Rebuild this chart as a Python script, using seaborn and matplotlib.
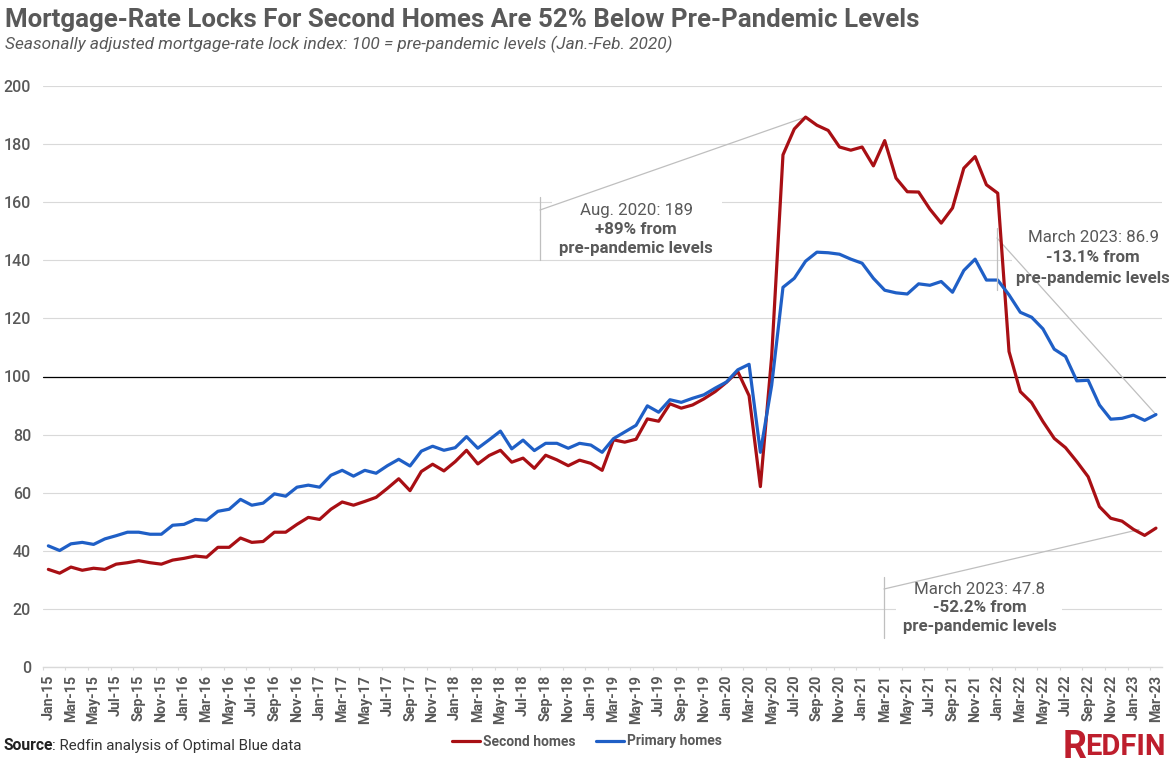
import matplotlib
matplotlib.use("Agg")
import matplotlib.pyplot as plt
import seaborn as sns
import pandas as pd

months = [f"{m}-{y}" for y in range(15, 24) for m in
          ["Jan", "Feb", "Mar", "Apr", "May", "Jun", "Jul", "Aug", "Sep", "Oct", "Nov", "Dec"]][:99]

second_homes = [33.6, 32.3, 34.4, 33.3, 34.0, 33.6, 35.4, 35.9, 36.6, 35.9, 35.4, 36.8,
                37.4, 38.2, 37.8, 41.2, 41.2, 44.4, 42.9, 43.2, 46.4, 46.4, 49.1, 51.5,
                50.8, 54.3, 56.8, 55.7, 57.0, 58.4, 61.5, 64.8, 60.7, 67.3, 69.8, 67.5,
                70.7, 74.6, 69.9, 72.8, 74.6, 70.5, 71.9, 68.4, 72.9, 71.3, 69.3, 71.2,
                70.1, 67.7, 78.2, 77.4, 78.4, 85.4, 84.6, 90.6, 89.1, 90.2, 92.3, 94.8,
                98.0, 101.7, 93.4, 62.1, 107.0, 176.3, 185.2, 189.3, 186.5, 184.7, 179.0, 177.9,
                179.0, 172.5, 181.2, 168.3, 163.6, 163.5, 157.6, 152.8, 158.0, 171.7, 175.7, 166.0,
                163.1, 108.6, 94.8, 91.0, 84.5, 78.7, 75.5, 70.7, 65.5, 55.2, 51.2, 50.2,
                47.4, 45.3, 47.8]
primary_homes = [41.7, 40.1, 42.4, 42.9, 42.2, 44.1, 45.2, 46.4, 46.4, 45.7, 45.7, 48.8,
                 49.1, 50.8, 50.5, 53.6, 54.3, 57.7, 55.7, 56.4, 59.6, 58.8, 61.9, 62.6,
                 61.9, 66.0, 67.7, 65.7, 67.7, 66.7, 69.3, 71.5, 69.2, 74.3, 76.0, 74.6,
                 75.5, 79.3, 75.3, 78.2, 81.2, 75.1, 78.1, 74.5, 77.0, 77.0, 75.3, 77.0,
                 76.4, 73.9, 78.6, 80.9, 83.2, 89.9, 87.7, 92.0, 91.1, 92.5, 93.7, 96.0,
                 98.1, 102.3, 104.2, 73.9, 97.0, 130.7, 133.8, 139.7, 142.8, 142.6, 142.1, 140.4,
                 139.0, 133.8, 129.7, 128.8, 128.4, 131.9, 131.4, 132.7, 129.0, 136.5, 140.4, 133.2,
                 133.2, 128.1, 122.1, 120.4, 116.4, 109.4, 106.9, 98.5, 98.7, 90.2, 85.3, 85.6,
                 86.7, 84.9, 86.9]
y_ticks = [0, 20, 40, 60, 80, 100, 120, 140, 160, 180, 200]

W, H = 1172, 761
GRAY = "#595959"
sns.set_theme(style="white")
plt.rcParams["font.family"] = ["Roboto", "DejaVu Sans"]

fig = plt.figure(figsize=(W / 100, H / 100), dpi=100)
fx = lambda p: p / W
fy = lambda p: 1 - p / H
ax = fig.add_axes([fx(42.7), fy(667), fx(1161.6 - 42.7), fy(86) - fy(667)])

df = pd.DataFrame({
    "i": list(range(len(months))) * 2,
    "value": second_homes + primary_homes,
    "series": ["Second homes"] * len(months) + ["Primary homes"] * len(months),
})
sns.lineplot(data=df, x="i", y="value", hue="series", ax=ax, linewidth=2.3,
             palette={"Second homes": "#A80F14", "Primary homes": "#1F5FC6"},
             hue_order=["Second homes", "Primary homes"], zorder=3, clip_on=False)

ax.set_xlim(-0.5, len(months) - 0.5)
ax.set_ylim(0, 200)
ax.set_xlabel("")
ax.set_ylabel("")
for s in ["top", "right", "left"]:
    ax.spines[s].set_visible(False)
ax.spines["bottom"].set_color("#d9d9d9")
ax.spines["bottom"].set_linewidth(1)
ax.set_yticks(y_ticks)
ax.set_yticklabels(y_ticks, fontsize=11.5, color=GRAY, fontweight="medium")
ax.tick_params(axis="y", length=0, pad=8.4)
ax.set_xticks(range(0, len(months), 2))
ax.set_xticklabels(months[::2], rotation=90, fontsize=10.3, color=GRAY,
                   fontweight="bold", ha="center", va="top")
ax.tick_params(axis="x", which="major", length=0, pad=5.5)
ax.set_xticks([i - 0.5 for i in range(0, len(months) + 1, 2)], minor=True)
ax.tick_params(axis="x", which="minor", length=2.5, width=0.8, color="#d9d9d9", bottom=True)
ax.grid(axis="y", color="#d9d9d9", linewidth=0.8, zorder=0)
ax.set_axisbelow(True)
ax.axhline(100, color="black", linewidth=0.9, zorder=2, xmax=1.003, clip_on=False)

# legend
ax.legend(handles=ax.get_legend_handles_labels()[0], labels=["Second homes", "Primary homes"],
          loc="center", bbox_to_anchor=(fx(587), fy(741.5)), bbox_transform=fig.transFigure,
          ncol=2, frameon=False, handlelength=2.0, handletextpad=0.25,
          columnspacing=1.45, labelcolor=GRAY, prop={"weight": "bold", "size": 10})

# titles
fig.text(fx(5), fy(20), "Mortgage-Rate Locks For Second Homes Are 52% Below Pre-Pandemic Levels",
         fontsize=18.6, fontweight="bold", color=GRAY, ha="left", va="center")
fig.text(fx(5), fy(44), "Seasonally adjusted mortgage-rate lock index: 100 = pre-pandemic levels (Jan.-Feb. 2020)",
         fontsize=12.4, fontstyle="italic", color=GRAY, ha="left", va="center")

# source
src = fig.text(fx(4), fy(746), "Source", fontsize=11.3, fontweight="bold", color="#222222",
               ha="left", va="center")
fig.text(fx(52.5), fy(746), ": Redfin analysis of Optimal Blue data", fontsize=10.9,
         color="#333333", ha="left", va="center")

# logo
RED = "#BE1E2D"
LOGO = ["Liberation Sans Narrow", "Roboto"]
fig.text(fx(1062.5), fy(758), "R", fontsize=27, fontweight="bold", color=RED, family=LOGO,
         ha="left", va="baseline")
fig.text(fx(1085.5), fy(755), "EDFIN", fontsize=21, fontweight="bold", color=RED, family=LOGO,
         ha="left", va="baseline")

# callouts
def callout(cx, ys, lines, vx, vtop, vbot, sx, sy, point_i, point_v, box):
    ax.add_artist(plt.Rectangle((fx(box[0]), fy(box[3])), fx(box[2] - box[0]), fy(box[1]) - fy(box[3]),
                                transform=fig.transFigure, fc="white", ec="none", zorder=1,
                                clip_on=False))
    for y, (txt, weight) in zip(ys, lines):
        fig.text(fx(cx), fy(y), txt, fontsize=12.2, color=GRAY, fontweight=weight,
                 ha="center", va="center", zorder=5)
    fig.add_artist(plt.Line2D([fx(vx), fx(vx)], [fy(vtop), fy(vbot)], color="#bfbfbf", lw=0.9,
                              transform=fig.transFigure))
    ax.annotate("", xy=(point_i, point_v), xycoords="data",
                xytext=(fx(sx), fy(sy)), textcoords="figure fraction",
                arrowprops=dict(arrowstyle="-", color="#bfbfbf", lw=0.9, shrinkA=0, shrinkB=0),
                zorder=2, annotation_clip=False)

callout(636, [210, 229, 249],
        [("Aug. 2020: 189", "normal"), ("+89% from", "bold"), ("pre-pandemic levels", "bold")],
        540, 197, 260, 540, 210, 67, second_homes[67], (552, 200, 722, 258))
callout(1093, [238, 258, 278],
        [("March 2023: 86.9", "normal"), ("-13.1% from", "bold"), ("pre-pandemic levels", "bold")],
        997, 228, 290, 997, 238, 98, primary_homes[98], (1012, 228, 1172, 288))
callout(980, [589, 608, 627],
        [("March 2023: 47.8", "normal"), ("-52.2% from", "bold"), ("pre-pandemic levels", "bold")],
        884, 577, 638, 884, 589, 96.5, second_homes[98] - 0.5, (896, 580, 1062, 637))

fig.savefig("out.png", dpi=100, facecolor="white")
